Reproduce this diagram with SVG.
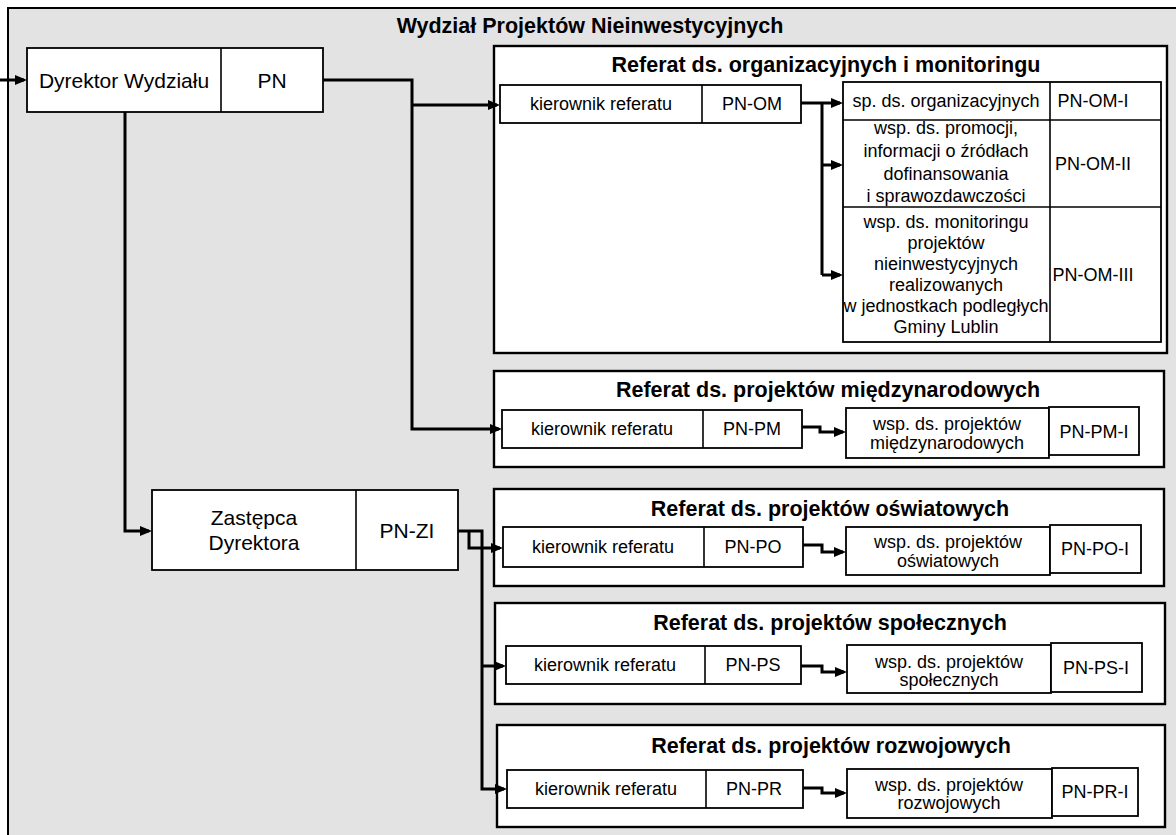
<svg xmlns="http://www.w3.org/2000/svg" width="1176" height="835" viewBox="0 0 1176 835">
<defs>
<style>
.t{font-family:"Liberation Sans",Arial,sans-serif;fill:#000;text-anchor:middle}
.r{font-size:18px}
.m{font-size:21px}
.h{font-size:21.5px;font-weight:bold}
.box{fill:#fff;stroke:#000;stroke-width:1.8}
.frame{fill:#fff;stroke:#000;stroke-width:2.4}
.dv{stroke:#000;stroke-width:1.6;fill:none}
.c{fill:none;stroke:#000;stroke-width:3}
.ca{fill:none;stroke:#000;stroke-width:3;marker-end:url(#ah)}
</style>
<marker id="ah" viewBox="0 0 12 10" refX="9" refY="5" markerWidth="12" markerHeight="10" markerUnits="userSpaceOnUse" orient="auto"><path d="M0,0L12,5L0,10z" fill="#000"/></marker>
</defs>
<rect width="1176" height="835" fill="#fff"/>
<rect x="8" y="8" width="1168" height="827" fill="#e3e3e3"/>
<path d="M8,835V8H1176" fill="none" stroke="#000" stroke-width="2"/>
<text x="590" y="33" class="t h">Wydział Projektów Nieinwestycyjnych</text>

<g id="referat-om">
<rect x="494" y="46" width="673" height="307" class="frame"/>
<text x="826" y="72" class="t h">Referat ds. organizacyjnych i monitoringu</text>
</g>
<g id="referat-pm">
<rect x="494" y="371" width="670" height="96" class="frame"/>
<text x="828" y="397" class="t h">Referat ds. projektów międzynarodowych</text>
</g>
<g id="referat-po">
<rect x="494" y="489" width="670" height="97" class="frame"/>
<text x="830" y="516" class="t h">Referat ds. projektów oświatowych</text>
</g>
<g id="referat-ps">
<rect x="495" y="603" width="670" height="101" class="frame"/>
<text x="830" y="630" class="t h">Referat ds. projektów społecznych</text>
</g>
<g id="referat-pr">
<rect x="497" y="725" width="668" height="102" class="frame"/>
<text x="831" y="753" class="t h">Referat ds. projektów rozwojowych</text>
</g>

<g id="connectors">
<path d="M0,80H24" class="ca"/>
<path d="M323,80H412V429H499" class="ca"/>
<path d="M412,105H497" class="ca"/>
<path d="M801,103H840" class="ca"/>
<path d="M822,103V275" class="c"/>
<path d="M822,165H840" class="ca"/>
<path d="M822,275H840" class="ca"/>
<path d="M802,427H820V432H843" class="ca"/>
<path d="M125,112V531H149" class="ca"/>
<path d="M458,531H482V789H504" class="ca"/>
<path d="M469,531V548H500" class="ca"/>
<path d="M482,666H503" class="ca"/>
<path d="M803,545H822V552H843" class="ca"/>
<path d="M801,666H822V672H844" class="ca"/>
<path d="M803,788H822V793H844" class="ca"/>
</g>

<g id="dyrektor">
<rect x="27" y="48" width="296" height="64" class="box"/>
<line x1="221" y1="48" x2="221" y2="112" class="dv"/>
<text x="124" y="88" class="t m">Dyrektor Wydziału</text>
<text x="272" y="88" class="t m">PN</text>
</g>

<g id="zastepca">
<rect x="152" y="490" width="306" height="80" class="box"/>
<line x1="356" y1="490" x2="356" y2="570" class="dv"/>
<text x="254" y="525" class="t m">Zastępca</text>
<text x="254" y="550" class="t m">Dyrektora</text>
<text x="407" y="538" class="t m">PN-ZI</text>
</g>

<g id="kierownik-om">
<rect x="500" y="85" width="301" height="38" class="box"/>
<line x1="702" y1="85" x2="702" y2="123" class="dv"/>
<text x="601" y="110" class="t r">kierownik referatu</text>
<text x="752" y="110" class="t r">PN-OM</text>
</g>

<g id="stanowiska-om">
<rect x="843" y="82" width="318" height="260" class="box"/>
<line x1="1050" y1="82" x2="1050" y2="342" class="dv"/>
<line x1="843" y1="120" x2="1161" y2="120" class="dv"/>
<line x1="843" y1="207" x2="1161" y2="207" class="dv"/>
<text x="946" y="107" class="t r">sp. ds. organizacyjnych</text>
<text x="1093" y="107" class="t r">PN-OM-I</text>
<text x="946" y="134" class="t r">wsp. ds. promocji,</text>
<text x="946" y="157" class="t r">informacji o źródłach</text>
<text x="946" y="180" class="t r">dofinansowania</text>
<text x="946" y="202" class="t r">i sprawozdawczości</text>
<text x="1093" y="170" class="t r">PN-OM-II</text>
<text x="946" y="228" class="t r">wsp. ds. monitoringu</text>
<text x="946" y="249" class="t r">projektów</text>
<text x="946" y="270" class="t r">nieinwestycyjnych</text>
<text x="946" y="291" class="t r">realizowanych</text>
<text x="946" y="312" class="t r">w jednostkach podległych</text>
<text x="946" y="333" class="t r">Gminy Lublin</text>
<text x="1093" y="281" class="t r">PN-OM-III</text>
</g>

<g id="kierownik-pm">
<rect x="502" y="410" width="300" height="38" class="box"/>
<line x1="703" y1="410" x2="703" y2="448" class="dv"/>
<text x="602" y="435" class="t r">kierownik referatu</text>
<text x="752" y="435" class="t r">PN-PM</text>
</g>
<g id="wsp-pm">
<rect x="846" y="408" width="203" height="50" class="box"/>
<rect x="1049" y="407" width="90" height="48" class="box"/>
<text x="947" y="430" class="t r">wsp. ds. projektów</text>
<text x="947" y="449" class="t r">międzynarodowych</text>
<text x="1094" y="438" class="t r">PN-PM-I</text>
</g>

<g id="kierownik-po">
<rect x="503" y="527" width="300" height="40" class="box"/>
<line x1="704" y1="527" x2="704" y2="567" class="dv"/>
<text x="603" y="553" class="t r">kierownik referatu</text>
<text x="753" y="553" class="t r">PN-PO</text>
</g>
<g id="wsp-po">
<rect x="846" y="527" width="204" height="48" class="box"/>
<rect x="1050" y="525" width="91" height="48" class="box"/>
<text x="948" y="548" class="t r">wsp. ds. projektów</text>
<text x="948" y="567" class="t r">oświatowych</text>
<text x="1095" y="555" class="t r">PN-PO-I</text>
</g>

<g id="kierownik-ps">
<rect x="506" y="646" width="295" height="38" class="box"/>
<line x1="705" y1="646" x2="705" y2="684" class="dv"/>
<text x="605" y="671" class="t r">kierownik referatu</text>
<text x="753" y="671" class="t r">PN-PS</text>
</g>
<g id="wsp-ps">
<rect x="847" y="645" width="204" height="48" class="box"/>
<rect x="1051" y="643" width="91" height="49" class="box"/>
<text x="949" y="668" class="t r">wsp. ds. projektów</text>
<text x="949" y="686" class="t r">społecznych</text>
<text x="1096" y="674" class="t r">PN-PS-I</text>
</g>

<g id="kierownik-pr">
<rect x="507" y="770" width="296" height="38" class="box"/>
<line x1="706" y1="770" x2="706" y2="808" class="dv"/>
<text x="606" y="795" class="t r">kierownik referatu</text>
<text x="754" y="795" class="t r">PN-PR</text>
</g>
<g id="wsp-pr">
<rect x="847" y="769" width="205" height="49" class="box"/>
<rect x="1052" y="768" width="86" height="48" class="box"/>
<text x="949" y="791" class="t r">wsp. ds. projektów</text>
<text x="949" y="809" class="t r">rozwojowych</text>
<text x="1095" y="798" class="t r">PN-PR-I</text>
</g>
</svg>
